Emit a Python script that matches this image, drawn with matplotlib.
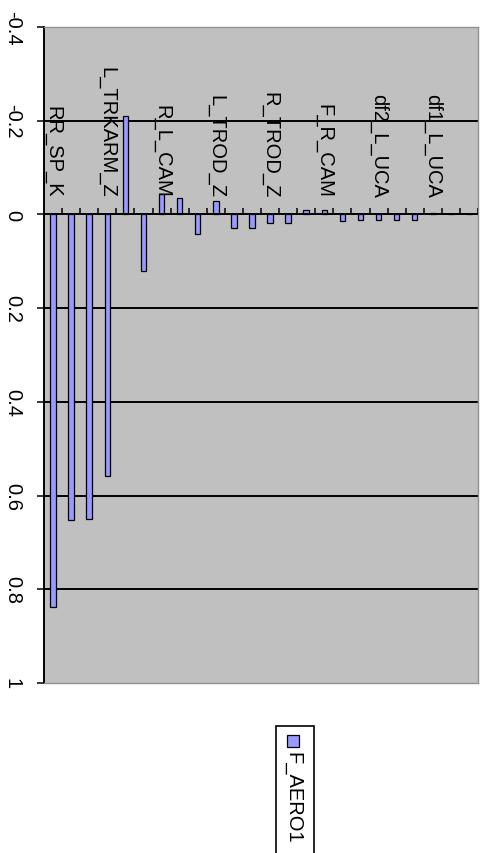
import matplotlib.pyplot as plt
from matplotlib.patches import Rectangle

plt.rcParams['font.family'] = ['Liberation Sans', 'DejaVu Sans']

# one value per category (24 categories, only every third one is labelled)
values = [0.837, 0.653, 0.649, 0.559, -0.21, 0.121, -0.043, -0.036,
          0.041, -0.029, 0.028, 0.028, 0.019, 0.019, -0.01, -0.01,
          0.015, 0.011, 0.011, 0.011, 0.011, -0.003, 0.0, 0.0]
cat_labels = {1: 'RR_SP_K', 4: 'L_TRKARM_Z', 7: 'R_L_CAM', 10: 'L_TROD_Z',
              13: 'R_TROD_Z', 16: 'F_R_CAM', 19: 'df2_L_UCA', 22: 'df1_L_UCA'}
yticks = [-0.4, -0.2, 0, 0.2, 0.4, 0.6, 0.8, 1]
ytick_labels = ['-0.4', '-0.2', '0', '0.2', '0.4', '0.6', '0.8', '1']
series_name = 'F_AERO1'

W, H = 486, 854
fig = plt.figure(figsize=(W / 100, H / 100), dpi=100)
ax = fig.add_axes([44 / W, 1 - 684 / H, (478 - 44) / W, (684 - 28) / H])
ax.set_facecolor('#c0c0c0')

n = len(values)
xs = list(range(1, n + 1))
ax.set_xlim(0.5, n + 0.5)
ax.set_ylim(1, -0.4)

for y in yticks[1:-1]:
    if y != 0:
        ax.axhline(y, color='black', lw=1.4, zorder=1)

ax.bar(xs, values, width=0.3, color='#9999ff', edgecolor='black', lw=0.9, zorder=2)

# category axis at zero with small ticks pointing up
ax.axhline(0, color='black', lw=1.4, zorder=3)
ax.vlines([i + 0.5 for i in range(1, n + 1)], -0.013, 0, color='black', lw=1.1, zorder=3)

for i, lab in cat_labels.items():
    ax.text(i, -0.037, lab, rotation=270, ha='center', va='bottom',
            fontsize=14.5, zorder=4)

ax.set_xticks([])
ax.set_yticks(yticks)
ax.set_yticklabels(ytick_labels, rotation=270, va='center', fontsize=14.5)
ax.tick_params(axis='y', length=5, width=1.1, pad=11, direction='out')

for s in ['top', 'right', 'bottom']:
    ax.spines[s].set_color('#909090')
    ax.spines[s].set_linewidth(1.0)
ax.spines['left'].set_color('black')
ax.spines['left'].set_linewidth(1.4)

# legend box (runs off the bottom edge)
fig.patches.append(Rectangle((276 / W, 1 - 870 / H), 38 / W, 143 / H,
                             transform=fig.transFigure, facecolor='white',
                             edgecolor='black', lw=1.2))
fig.patches.append(Rectangle((287 / W, 1 - 748 / H), 12 / W, 12 / H,
                             transform=fig.transFigure, facecolor='#9999ff',
                             edgecolor='black', lw=0.9))
fig.text(293 / W, 1 - 752 / H, series_name, rotation=270, ha='center', va='top',
         fontsize=14.5)

fig.savefig('out.png', dpi=100)
